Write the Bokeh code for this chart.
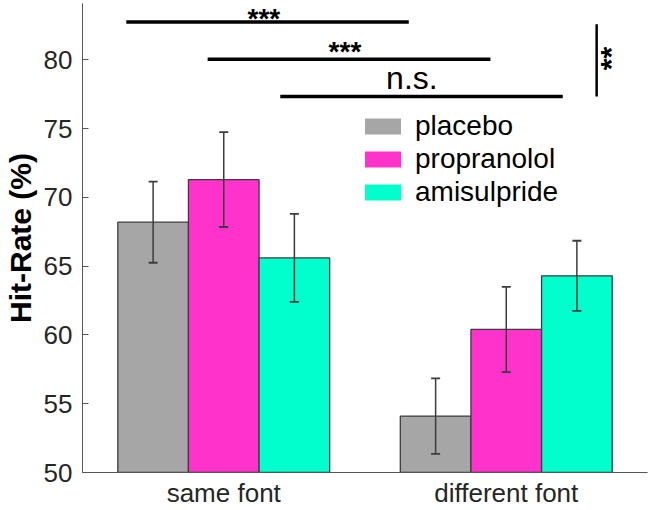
import numpy as np
from bokeh.plotting import figure
from bokeh.models import Range1d, FixedTicker, ColumnDataSource, Legend, LegendItem
from bokeh.core.properties import value
from bokeh.embed import file_html
from bokeh.resources import INLINE

# ---- data ----
groups = ["same font", "different font"]
conditions = ["placebo", "propranolol", "amisulpride"]
colors = ["#A6A6A6", "#FF33CC", "#00FFCC"]

placebo = [68.2, 54.1]
propranolol = [71.3, 60.4]
amisulpride = [65.6, 64.3]
placebo_err = [2.95, 2.75]
propranolol_err = [3.45, 3.1]
amisulpride_err = [3.2, 2.55]

y_ticks = [50, 55, 60, 65, 70, 75, 80]

# significance annotations (data coordinates)
sig_x0 = [0.655, 0.943, 1.200]
sig_x1 = [1.655, 1.944, 2.200]
sig_y = [82.75, 80.04, 77.34]
sig_labels = ["***", "***", "n.s."]
sig_label_x = [1.142, 1.429, 1.666]
sig_label_y = [83.02, 80.59, 78.67]
vert_x = [2.32]
vert_y0 = [77.33]
vert_y1 = [82.6]
vert_label = ["**"]
vert_label_x = [2.37]
vert_label_y = [80.1]

FONT = "Liberation Sans"
AX = "#555555"
TXT = "#262626"
EDGE = "#3c3c3c"

p = figure(width=650, height=510, output_backend="svg", toolbar_location=None,
           x_range=Range1d(0.5, 2.5), y_range=Range1d(50, 84.1),
           min_border_left=0, min_border_right=3, min_border_top=3, min_border_bottom=0)
p.xgrid.visible = False
p.ygrid.visible = False
p.outline_line_color = None
p.background_fill_color = "white"
p.border_fill_color = "white"

values_all = [placebo, propranolol, amisulpride]
errs_all = [placebo_err, propranolol_err, amisulpride_err]
bar_w = 0.25
base_x = np.arange(1, len(groups) + 1)

legend_items = []
for i, (cond, col, vals, errs) in enumerate(zip(conditions, colors, values_all, errs_all)):
    xs = base_x + (i - 1) * bar_w
    vals = np.array(vals)
    errs = np.array(errs)
    src = ColumnDataSource(dict(x=xs, top=vals, lo=vals - errs, hi=vals + errs))
    p.vbar(x="x", top="top", bottom=50, width=bar_w, source=src,
           fill_color=col, line_color=EDGE, line_width=1.3)
    p.segment(x0="x", y0="lo", x1="x", y1="hi", source=src, line_color=EDGE, line_width=1.5)
    p.scatter(x="x", y="hi", source=src, marker="dash", size=9, line_color=EDGE, line_width=1.8)
    p.scatter(x="x", y="lo", source=src, marker="dash", size=9, line_color=EDGE, line_width=1.8)
    # legend swatch renderer (fill only, zero-height, outside the visible range)
    r = p.vbar(x=[base_x[0] - 1], top=[50], bottom=50, width=bar_w,
               fill_color=col, line_color=None)
    legend_items.append(LegendItem(label=cond, renderers=[r]))

# significance lines
p.segment(x0=sig_x0, y0=sig_y, x1=sig_x1, y1=sig_y, line_color="black", line_width=3.5)
p.segment(x0=vert_x, y0=vert_y0, x1=vert_x, y1=vert_y1, line_color="black", line_width=2.5)
p.text(x=sig_label_x[:2], y=sig_label_y[:2], text=sig_labels[:2],
       text_font=value(FONT), text_font_size="28px", text_font_style="bold",
       text_align="center", text_baseline="middle", text_color="black")
p.text(x=sig_label_x[2:], y=sig_label_y[2:], text=sig_labels[2:],
       text_font=value(FONT), text_font_size="32px",
       text_align="center", text_baseline="middle", text_color="black")
p.text(x=vert_label_x, y=vert_label_y, text=vert_label, angle=np.pi / 2,
       text_font=value(FONT), text_font_size="30px", text_font_style="bold",
       text_align="center", text_baseline="middle", text_color="black")

legend = Legend(items=legend_items, location=(278, 264),
                glyph_width=45, glyph_height=20, label_standoff=10, spacing=1,
                padding=0, margin=0,
                label_text_font=FONT, label_text_font_size="28px", label_text_color="black",
                border_line_color=None, background_fill_alpha=0)
p.add_layout(legend)

# axes
p.yaxis.ticker = FixedTicker(ticks=y_ticks)
p.yaxis.major_tick_in = 6
p.yaxis.major_tick_out = 0
p.yaxis.minor_tick_in = 0
p.yaxis.minor_tick_out = 0
p.yaxis.axis_line_color = AX
p.yaxis.major_tick_line_color = AX
p.yaxis.major_label_text_font = FONT
p.yaxis.major_label_text_font_size = "26px"
p.yaxis.major_label_text_color = TXT
p.yaxis.major_label_standoff = 10
p.yaxis.axis_label = "Hit-Rate (%)"
p.yaxis.axis_label_text_font = FONT
p.yaxis.axis_label_text_font_size = "30px"
p.yaxis.axis_label_text_font_style = "bold"
p.yaxis.axis_label_text_color = "black"
p.yaxis.axis_label_standoff = 4

p.xaxis.axis_label = None
p.xaxis.ticker = FixedTicker(ticks=[float(v) for v in base_x])
p.xaxis.major_label_overrides = {int(v): g for v, g in zip(base_x, groups)}
p.xaxis.major_tick_in = 0
p.xaxis.major_tick_out = 0
p.xaxis.minor_tick_in = 0
p.xaxis.minor_tick_out = 0
p.xaxis.axis_line_color = AX
p.xaxis.major_label_text_font = FONT
p.xaxis.major_label_text_font_size = "26px"
p.xaxis.major_label_text_color = TXT
p.xaxis.major_label_standoff = 5

open("out.html", "w").write(file_html(p, INLINE))
